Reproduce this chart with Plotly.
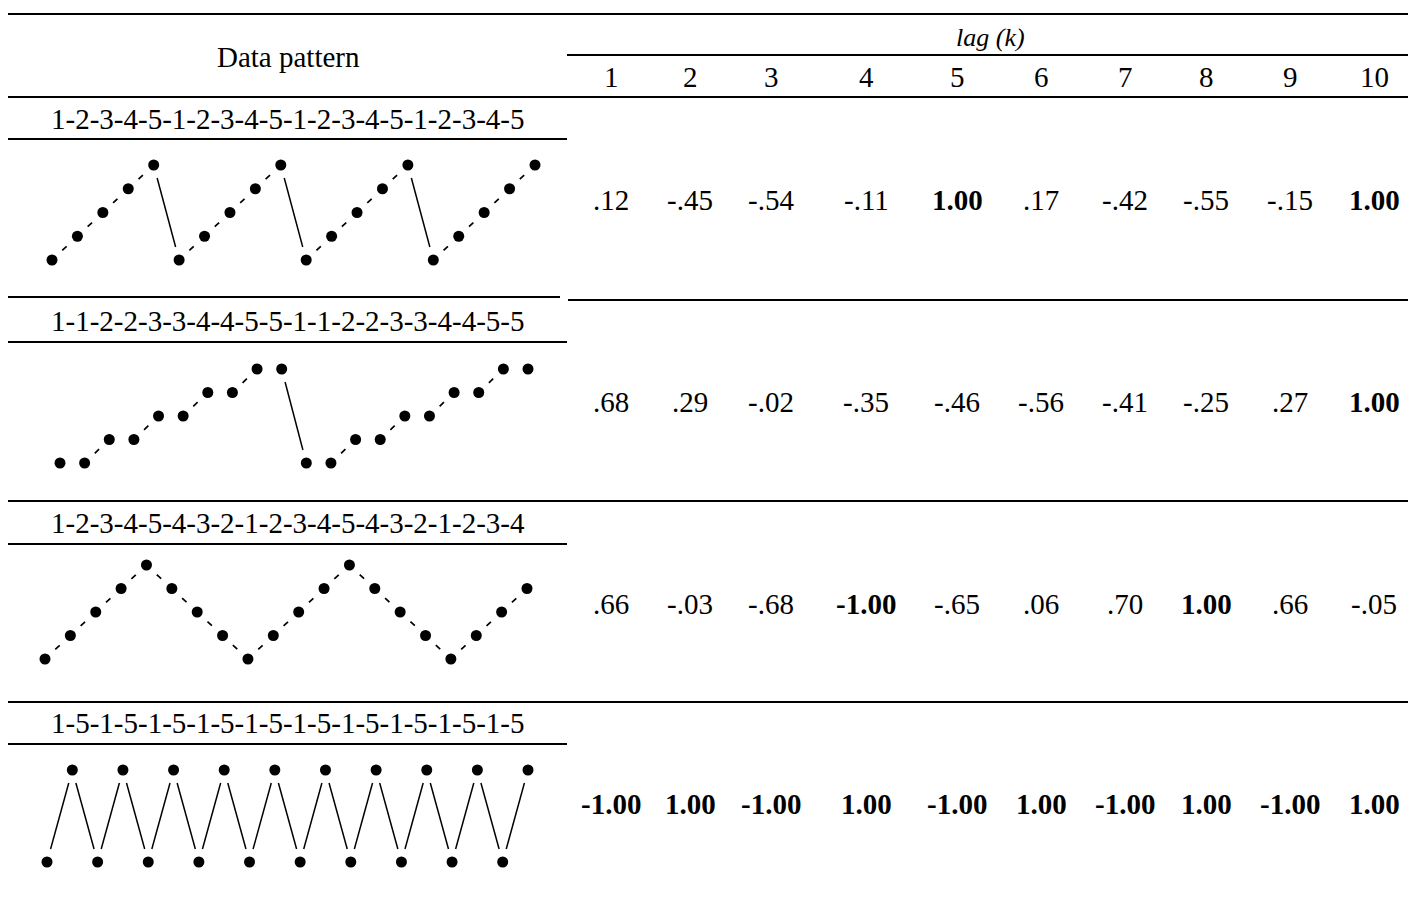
import plotly.graph_objects as go

# ---------------- data ----------------
lags = [1, 2, 3, 4, 5, 6, 7, 8, 9, 10]

pattern_a = [1, 2, 3, 4, 5, 1, 2, 3, 4, 5, 1, 2, 3, 4, 5, 1, 2, 3, 4, 5]
pattern_b = [1, 1, 2, 2, 3, 3, 4, 4, 5, 5, 1, 1, 2, 2, 3, 3, 4, 4, 5, 5]
pattern_c = [1, 2, 3, 4, 5, 4, 3, 2, 1, 2, 3, 4, 5, 4, 3, 2, 1, 2, 3, 4]
pattern_d = [1, 5, 1, 5, 1, 5, 1, 5, 1, 5, 1, 5, 1, 5, 1, 5, 1, 5, 1, 5]

acf_a = [0.12, -0.45, -0.54, -0.11, 1.00, 0.17, -0.42, -0.55, -0.15, 1.00]
acf_b = [0.68, 0.29, -0.02, -0.35, -0.46, -0.56, -0.41, -0.25, 0.27, 1.00]
acf_c = [0.66, -0.03, -0.68, -1.00, -0.65, 0.06, 0.70, 1.00, 0.66, -0.05]
acf_d = [-1.00, 1.00, -1.00, 1.00, -1.00, 1.00, -1.00, 1.00, -1.00, 1.00]

patterns = [pattern_a, pattern_b, pattern_c, pattern_d]
acfs = [acf_a, acf_b, acf_c, acf_d]

header_left = "Data pattern"
header_right = "lag (k)"

# ---------------- layout (pixels in the 1416x897 window) ----------------
WIN_W, WIN_H = 1416, 897
OFF = 8                       # page body margin
W, H = WIN_W - 2 * OFF, WIN_H - 2 * OFF
FONT = "Liberation Serif"
FS = 29

def px(x):
    return (x - OFF) / W

def py(y):
    return 1 - (y - OFF) / H

# mini-chart boxes: (x of first point, x of last point, y of value 1, y of value 5)
chart_px = [(52, 535, 260, 165), (60, 528, 463, 369), (45, 527, 659, 565), (47, 528, 862, 770)]
label_y = [119, 321, 523, 723]
value_y = [200, 402, 604, 804]
col_x = [611, 690, 771, 866, 957, 1041, 1125, 1206, 1290, 1374]
label_x = 288

fig = go.Figure()
layout_axes = {}

for k, (pat, box) in enumerate(zip(patterns, chart_px)):
    n = k + 1
    xa = "x" if n == 1 else f"x{n}"
    ya = "y" if n == 1 else f"y{n}"
    xs = list(range(len(pat)))
    for i in range(len(pat) - 1):
        d = pat[i + 1] - pat[i]
        if d == 0:
            continue
        if abs(d) == 1:
            line = dict(color="black", width=1.7, dash="0px,14px,6px,80px")
        else:
            line = dict(color="black", width=1.5)
        fig.add_trace(go.Scatter(x=[xs[i], xs[i + 1]], y=[pat[i], pat[i + 1]], mode="lines",
                                 line=line, xaxis=xa, yaxis=ya, hoverinfo="skip",
                                 showlegend=False, cliponaxis=False))
    fig.add_trace(go.Scatter(x=xs, y=pat, mode="markers",
                             marker=dict(size=27, color="white"), xaxis=xa, yaxis=ya,
                             hoverinfo="skip", showlegend=False, cliponaxis=False))
    fig.add_trace(go.Scatter(x=xs, y=pat, mode="markers",
                             marker=dict(size=11, color="black"), xaxis=xa, yaxis=ya,
                             hoverinfo="skip", showlegend=False, cliponaxis=False))
    x0, x1, y1, y5 = box
    key = "" if n == 1 else str(n)
    layout_axes[f"xaxis{key}"] = dict(domain=[px(x0), px(x1)], range=[0, len(pat) - 1],
                                      visible=False, fixedrange=True, anchor=ya)
    layout_axes[f"yaxis{key}"] = dict(domain=[py(y1), py(y5)], range=[1, 5],
                                      visible=False, fixedrange=True, anchor=xa)

def fmt(v):
    s = f"{abs(v):.2f}"
    if s.startswith("0"):
        s = s[1:]
    return ("-" if v < 0 else "") + s

ann = []
def text(x, y, t, size=FS):
    ann.append(dict(x=px(x), y=py(y), xref="paper", yref="paper", text=t, showarrow=False,
                    xanchor="center", yanchor="middle",
                    font=dict(family=FONT, size=size, color="black")))

text(288, 57, header_left)
text(990, 37, f"<i>{header_right}</i>", 26)
for lag, cx in zip(lags, col_x):
    text(cx, 77, str(lag))
for pat, ly in zip(patterns, label_y):
    text(label_x, ly, "-".join(str(v) for v in pat))
for vals, vy in zip(acfs, value_y):
    for v, cx in zip(vals, col_x):
        s = fmt(v)
        if abs(abs(v) - 1.0) < 1e-9:
            s = f"<b>{s}</b>"
        text(cx, vy, s)

shapes = []
def hline(x0, x1, y, w=2.2):
    shapes.append(dict(type="line", xref="paper", yref="paper", x0=px(x0), x1=px(x1),
                       y0=py(y), y1=py(y), line=dict(color="black", width=w)))

hline(8, 1411, 14)
hline(567, 1411, 55)
hline(8, 1411, 97)
hline(8, 567, 139)
hline(8, 560, 297)
hline(568, 1411, 300)
hline(8, 567, 342)
hline(8, 1411, 501)
hline(8, 567, 544)
hline(8, 1411, 702)
hline(8, 567, 744)

fig.update_layout(width=W, height=H, margin=dict(l=0, r=0, t=0, b=0),
                  paper_bgcolor="white", plot_bgcolor="white",
                  annotations=ann, shapes=shapes, showlegend=False, **layout_axes)

fig.write_html("out.html", config={"displayModeBar": False})
